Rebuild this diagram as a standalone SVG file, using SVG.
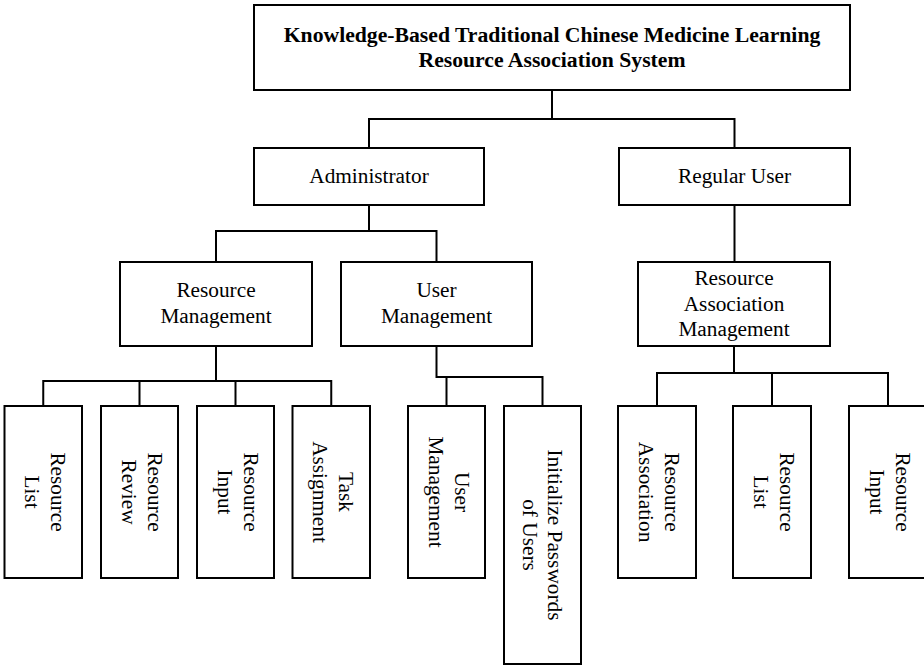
<svg xmlns="http://www.w3.org/2000/svg" width="924" height="666" viewBox="0 0 924 666">
<style>
rect{fill:#fff;stroke:#000;stroke-width:2}
text{font-family:"Liberation Serif","Times New Roman",serif;font-size:21.3px;fill:#000;text-anchor:middle}
.b{font-weight:bold;font-size:21.7px}
.c{fill:none;stroke:#000;stroke-width:2}
</style>
<rect x="0" y="0" width="924" height="666" style="stroke:none"/>
<g id="connectors">
<path class="c" d="M552 90V119M369 148V119H734.5V148"/>
<path class="c" d="M369 205V231M216 262V231H436.5V262"/>
<path class="c" d="M734.5 205V262"/>
<path class="c" d="M216 346V381M43.25 406V381H331.25V406M139.5 381V406M235.5 381V406"/>
<path class="c" d="M436.5 346V377H542.5V406M446.5 377V406"/>
<path class="c" d="M734 346V373M657 406V373H888V406M772 373V406"/>
</g>
<g id="root"><rect x="254" y="5" width="596" height="85"/><text class="b" x="552" y="42">Knowledge-Based Traditional Chinese Medicine Learning</text><text class="b" x="552" y="67">Resource Association System</text></g>
<g id="admin"><rect x="254" y="148" width="230" height="57"/><text x="369" y="183">Administrator</text></g>
<g id="regular"><rect x="619" y="148" width="231" height="57"/><text x="734.5" y="183">Regular User</text></g>
<g id="resmgmt"><rect x="120" y="262" width="192" height="84"/><text x="216" y="297">Resource</text><text x="216" y="323">Management</text></g>
<g id="usermgmt"><rect x="341" y="262" width="191" height="84"/><text x="436.5" y="297">User</text><text x="436.5" y="323">Management</text></g>
<g id="resassocmgmt"><rect x="638" y="262" width="192" height="84"/><text x="734" y="285">Resource</text><text x="734" y="311">Association</text><text x="734" y="336">Management</text></g>
<g id="leaf-reslist"><rect x="4.5" y="406" width="77.5" height="172"/><g transform="translate(43.25 492) rotate(90)"><text y="-8">Resource</text><text y="18">List</text></g></g>
<g id="leaf-resreview"><rect x="101" y="406" width="77" height="172"/><g transform="translate(139.5 492) rotate(90)"><text y="-8">Resource</text><text y="18">Review</text></g></g>
<g id="leaf-resinput"><rect x="197" y="406" width="77" height="172"/><g transform="translate(235.5 492) rotate(90)"><text y="-8">Resource</text><text y="18">Input</text></g></g>
<g id="leaf-task"><rect x="292.5" y="406" width="77.5" height="172"/><g transform="translate(331.25 492) rotate(90)"><text y="-8">Task</text><text y="18">Assignment</text></g></g>
<g id="leaf-usermgmt"><rect x="408" y="406" width="77" height="172"/><g transform="translate(446.5 492) rotate(90)"><text y="-8">User</text><text y="18">Management</text></g></g>
<g id="leaf-initpw"><rect x="504" y="406" width="77" height="258"/><g transform="translate(539.5 535) rotate(90)"><text y="-8">Initialize Passwords</text><text y="17">of Users</text></g></g>
<g id="leaf-resassoc"><rect x="618" y="406" width="78" height="172"/><g transform="translate(657 492) rotate(90)"><text y="-8">Resource</text><text y="18">Association</text></g></g>
<g id="leaf-reslist2"><rect x="733" y="406" width="78" height="172"/><g transform="translate(772 492) rotate(90)"><text y="-8">Resource</text><text y="18">List</text></g></g>
<g id="leaf-resinput2"><rect x="849" y="406" width="78" height="172"/><g transform="translate(888 492) rotate(90)"><text y="-8">Resource</text><text y="18">Input</text></g></g>
</svg>
